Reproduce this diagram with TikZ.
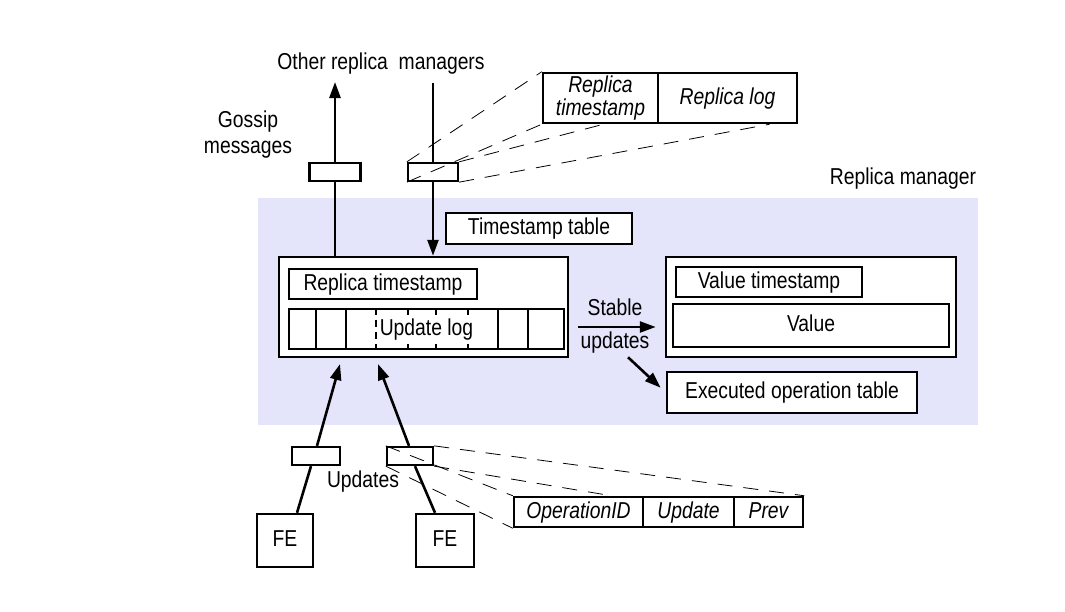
\documentclass[tikz,border=0pt]{standalone}
\usepackage{fontspec}
\setmainfont{Liberation Sans}[FakeStretch=0.84]
\usetikzlibrary{arrows.meta}
\definecolor{rmshade}{RGB}{228,228,250}

\begin{document}
\begin{tikzpicture}[x=1pt,y=-1pt,
  every node/.style={font=\fontsize{23}{25}\selectfont},
  box/.style={draw,line width=2.5pt,fill=white,inner sep=0pt,text height=16pt,text depth=4pt},
  tag/.style={draw,line width=2.3pt,fill=white,inner sep=0pt,minimum width=50pt,minimum height=18pt},
  flow/.style={line width=2.6pt,-{Triangle[length=16pt,width=11pt]}},
  feed/.style={line width=2.6pt},
  zoomline/.style={line width=0.8pt,dash pattern=on 15pt off 11pt}]
  \useasboundingbox (0,0) rectangle (1065,611);
  \fill[rmshade] (258,198) rectangle (978,425);
  \node (rmlabel) at (903,179) {Replica manager};

  % replica timestamp and update log
  \node[box,minimum width=289pt,minimum height=100pt] (rmbox) at (423.5,307) {};
  \node[box,minimum width=188pt,minimum height=30pt] (repts) at (383,284) {Replica timestamp};
  \node[box,minimum width=275pt,minimum height=40pt] (logbox) at (426.5,329) {};
  \foreach \d in {28,58,210,240}{
    \draw[line width=2.2pt] ([xshift=\d pt]logbox.north west) -- ([xshift=\d pt]logbox.south west);
  }
  \foreach \d in {88,120,148,180}{
    \draw[line width=1.8pt,dash pattern=on 7pt off 5pt] ([xshift=\d pt]logbox.north west) -- ([xshift=\d pt]logbox.south west);
  }
  \node[fill=white,inner sep=1pt,text height=16pt,text depth=4pt] (loglabel) at (logbox.center) {Update log};

  % value side
  \node[box,minimum width=290pt,minimum height=100pt] (valbox) at (811,307) {};
  \node[box,minimum width=186pt,minimum height=30pt] (valts) at (769,282) {Value timestamp};
  \node[box,minimum width=276pt,minimum height=43pt] (value) at (811,325.5) {Value};
  \node[box,minimum width=250pt,minimum height=41pt] (exectab) at (792,392.5) {Executed operation table};
  \node[box,minimum width=186pt,minimum height=31pt] (tstable) at (539,228.5) {Timestamp table};

  \node[align=center,font=\fontsize{23}{33}\selectfont] (stable) at (615,326.5) {Stable\\updates};
  \draw[flow] ([shift={(9,20)}]rmbox.east) -- ([shift={(-9,20)}]valbox.west);
  \draw[flow,shorten >=7pt] ([xshift=13pt]stable.south) -- (exectab.west);

  % gossip
  \node (othrm) at (381,64) {Other replica\ \ managers};
  \node[align=center,font=\fontsize{23}{26}\selectfont] (gossip) at (248,135) {Gossip\\messages};
  \node[tag,minimum width=51pt] (gout) at (335,172) {};
  \node[tag] (gin) at (433,172) {};
  \coordinate (gtop) at (335,82);
  \coordinate (gsrc) at (433,83);
  \draw[flow] (gout.north) -- (gtop);
  \draw[feed] (rmbox.north -| gout) -- (gout.south);
  \draw[feed] (gsrc) -- (gin.north);
  \draw[flow] (gin.south) -- (rmbox.north -| gin);

  \node[draw,line width=2.5pt,fill=white,inner sep=0pt,minimum width=115pt,minimum height=50pt,align=center,font=\itshape\fontsize{23}{16}\selectfont] (rts) at (600.5,98) {Replica\\timestamp};
  \node[box,minimum width=139pt,minimum height=50pt,font=\itshape\fontsize{23}{25}\selectfont] (rlog) at (727.5,98) {Replica log};
  \draw[zoomline] (gin.north west) -- (rts.north west);
  \draw[zoomline] (gin.south west) -- (rts.south west);
  \draw[zoomline] (gin.north east) -- ([xshift=3pt]rts.south);
  \draw[zoomline] (gin.south east) -- ([xshift=42pt]rlog.south);

  % updates from front ends
  \node[box,minimum width=56pt,minimum height=53pt] (fe1) at (285,540.5) {FE};
  \node[box,minimum width=58pt,minimum height=53pt] (fe2) at (445,540.5) {FE};
  \node[tag,minimum width=48pt] (uleft) at (316,456) {};
  \node[tag,minimum width=46pt] (uright) at (410,456) {};
  \node (upds) at (363,482) {Updates};
  \coordinate (tipa) at (340,364);
  \coordinate (tipb) at (378,364);
  \draw[feed] ([xshift=12pt]fe1.north) -- ([xshift=-5pt]uleft.south);
  \draw[flow] ([xshift=1pt]uleft.north) -- (tipa);
  \draw[feed] ([xshift=-10pt]fe2.north) -- ([xshift=5pt]uright.south);
  \draw[flow] ([xshift=-1pt]uright.north) -- (tipb);

  \node[box,minimum width=129pt,minimum height=30pt,font=\itshape\fontsize{23}{25}\selectfont] (opid) at (578.5,512) {OperationID};
  \node[box,minimum width=91pt,minimum height=30pt,font=\itshape\fontsize{23}{25}\selectfont] (upd) at (688.5,512) {Update};
  \node[box,minimum width=69pt,minimum height=30pt,font=\itshape\fontsize{23}{25}\selectfont] (prev) at (768.5,512) {Prev};
  \draw[zoomline] (uright.north west) -- (opid.north west);
  \draw[zoomline] (uright.south west) -- (opid.south west);
  \draw[zoomline] (uright.north east) -- (prev.north east);
  \draw[zoomline] (uright.south east) -- ([xshift=33pt]opid.north);
\end{tikzpicture}
\end{document}
